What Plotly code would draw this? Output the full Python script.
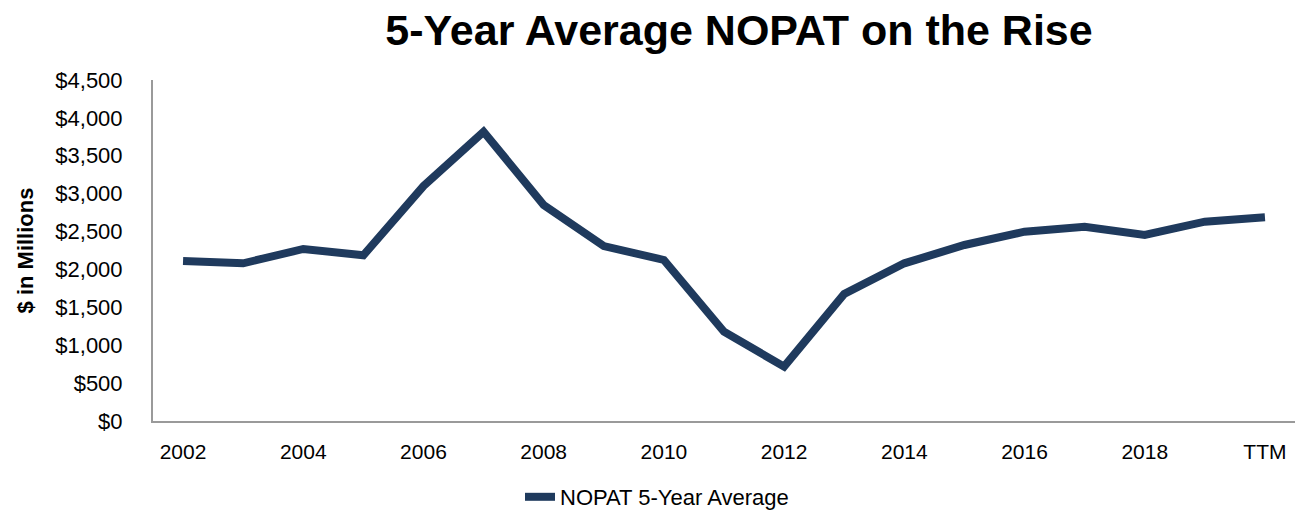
import plotly.graph_objects as go

categories = ["2002", "2003", "2004", "2005", "2006", "2007", "2008", "2009", "2010",
              "2011", "2012", "2013", "2014", "2015", "2016", "2017", "2018", "2019", "TTM"]
nopat_5yr_avg = [2111, 2081, 2270, 2187, 3101, 3818, 2850, 2309, 2125,
                 1178, 717, 1676, 2081, 2323, 2498, 2564, 2455, 2630, 2688]
shown_ticks = ["2002", "2004", "2006", "2008", "2010", "2012", "2014", "2016", "2018", "TTM"]
y_ticks = [0, 500, 1000, 1500, 2000, 2500, 3000, 3500, 4000, 4500]
y_tick_labels = ["$0", "$500", "$1,000", "$1,500", "$2,000", "$2,500", "$3,000",
                 "$3,500", "$4,000", "$4,500"]

FONT = "Arial, 'Liberation Sans', sans-serif"
NAVY = "#1f3a5d"

fig = go.Figure()
fig.add_trace(go.Scatter(
    x=categories, y=nopat_5yr_avg, mode="lines", name="NOPAT 5-Year Average",
    line=dict(color=NAVY, width=8, shape="linear"),
))

fig.update_layout(
    width=1300, height=511,
    margin=dict(l=153, r=5, t=80, b=90),
    paper_bgcolor="white", plot_bgcolor="white",
    font=dict(family=FONT, color="#000000", size=20),
    title=dict(text="<b>5-Year Average NOPAT on the Rise</b>",
               font=dict(family=FONT, size=43, color="#000000"),
               x=739 / 1300, xref="container", xanchor="center",
               y=1 - 30 / 511, yref="container", yanchor="middle"),
    showlegend=True,
    legend=dict(orientation="h", xref="container", yref="container",
                x=657 / 1300, xanchor="center", y=1 - 497 / 511, yanchor="middle",
                font=dict(family=FONT, size=22, color="#000000"),
                bgcolor="rgba(0,0,0,0)"),
)

fig.update_xaxes(
    type="category", categoryorder="array", categoryarray=categories,
    range=[-0.5, len(categories) - 0.5],
    tickmode="array", tickvals=shown_ticks, ticktext=shown_ticks,
    showline=True, linecolor="#9a9a9a", linewidth=2,
    showgrid=False, zeroline=False, ticks="",
    tickfont=dict(family=FONT, size=21, color="#000000"),
    ticklabelstandoff=11,
)
fig.update_yaxes(
    range=[0, 4500], tickmode="array", tickvals=y_ticks, ticktext=y_tick_labels,
    showline=True, linecolor="#9a9a9a", linewidth=2,
    showgrid=False, zeroline=False, ticks="",
    tickfont=dict(family=FONT, size=22, color="#000000"),
    ticklabelstandoff=24,
    title=dict(text="<b>$ in Millions</b>", font=dict(family=FONT, size=22, color="#000000"),
               standoff=16),
)

fig.write_html("out.html")
